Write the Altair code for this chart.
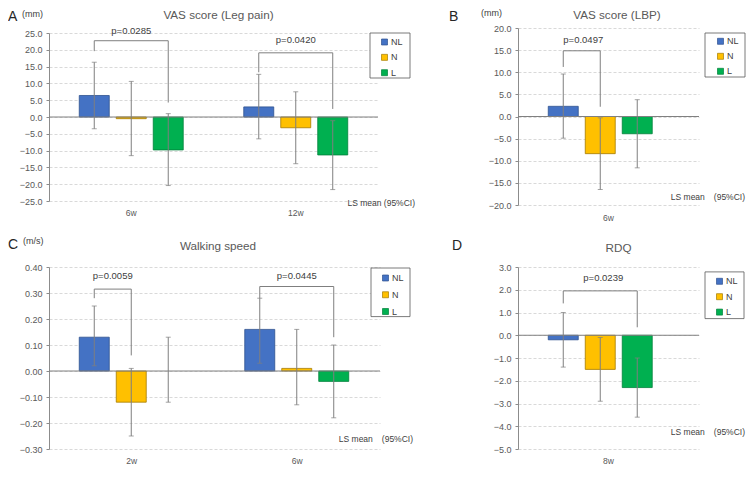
import altair as alt
import pandas as pd

FONT = "Liberation Sans"
GROUPS = ["NL", "N", "L"]
FILLS = ["#4472C4", "#FFC000", "#00B050"]
STROKES = ["#2F528F", "#A47A00", "#00803A"]
GRAY = "#7F7F7F"
TXT = "#595959"

# ---------------- Panel A : VAS score (Leg pain)
a_times = ["6w", "12w"]
a_mean = [6.4, -0.5, -9.8, 3.0, -3.2, -11.3]
a_lo = [-3.5, -11.5, -20.4, -6.5, -13.9, -21.6]
a_hi = [16.3, 10.6, 1.0, 12.7, 7.5, -1.1]
a_ticks = [25, 20, 15, 10, 5, 0, -5, -10, -15, -20, -25]
a_br_time = ["6w", "12w"]
a_br_from = ["NL", "NL"]
a_br_to = ["L", "L"]
a_br_top = [22.7, 19.1]
a_br_left = [19.6, 13.3]
a_br_right = [4.3, 2.4]
a_p_text = ["p=0.0285", "p=0.0420"]
a_p_y = [25.6, 23.0]

# ---------------- Panel B : VAS score (LBP)
b_times = ["6w"]
b_mean = [2.3, -8.4, -3.9]
b_lo = [-4.9, -16.5, -11.6]
b_hi = [9.6, -0.3, 3.8]
b_ticks = [20, 15, 10, 5, 0, -5, -10, -15, -20]
b_br_time = ["6w"]
b_br_from = ["NL"]
b_br_to = ["N"]
b_br_top = [14.85]
b_br_left = [11.2]
b_br_right = [2.2]
b_p_text = ["p=0.0497"]
b_p_y = [17.3]

# ---------------- Panel C : Walking speed
c_times = ["2w", "6w"]
c_mean = [0.13, -0.12, 0.00, 0.16, 0.01, -0.04]
c_lo = [0.02, -0.25, -0.12, 0.03, -0.13, -0.18]
c_hi = [0.25, 0.01, 0.13, 0.28, 0.16, 0.10]
c_ticks = [0.4, 0.3, 0.2, 0.1, 0.0, -0.1, -0.2, -0.3]
c_br_time = ["2w", "6w"]
c_br_from = ["NL", "NL"]
c_br_to = ["N", "L"]
c_br_top = [0.315, 0.325]
c_br_left = [0.28, 0.28]
c_br_right = [0.06, 0.13]
c_p_text = ["p=0.0059", "p=0.0445"]
c_p_y = [0.366, 0.366]

# ---------------- Panel D : RDQ
d_times = ["8w"]
d_mean = [-0.2, -1.5, -2.3]
d_lo = [-1.4, -2.9, -3.6]
d_hi = [1.0, -0.1, -1.0]
d_ticks = [3, 2, 1, 0, -1, -2, -3, -4, -5]
d_br_time = ["8w"]
d_br_from = ["NL"]
d_br_to = ["L"]
d_br_top = [1.95]
d_br_left = [1.4]
d_br_right = [0.35]
d_p_text = ["p=0.0239"]
d_p_y = [2.5]


def text_layer(text, x, y, size, color, align="left"):
    return alt.Chart(pd.DataFrame({"t": [text]})).mark_text(
        align=align, baseline="alphabetic", fontSize=size, color=color, font=FONT
    ).encode(x=alt.value(x), y=alt.value(y), text="t:N")


def panel(c):
    times = c["times"]
    n = len(times)
    df = pd.DataFrame({
        "time": [t for t in times for _ in GROUPS],
        "group": GROUPS * n,
        "mean": c["mean"], "lo": c["lo"], "hi": c["hi"],
    })
    xs = alt.Scale(domain=times, paddingInner=0, paddingOuter=0)
    xo = alt.Scale(domain=GROUPS, paddingInner=c["pi"], paddingOuter=c["po"])
    ys = alt.Scale(domain=c["domain"], range=c["yrange"], nice=False, zero=False)
    xaxis = alt.Axis(domain=False, ticks=False, tickSize=0, labelAngle=0,
                     labelFontSize=8.5, labelColor=TXT, labelPadding=c["xlp"])
    yaxis = alt.Axis(values=c["ticks"], format=c["fmt"], grid=True, gridDash=[3, 2],
                     gridColor="#D9D9D9", domainColor="#8C8C8C", tickColor="#8C8C8C",
                     tickSize=3, labelFontSize=9, labelColor=TXT, labelPadding=4)
    X = alt.X("time:N", scale=xs, axis=xaxis, title=None)

    def Y(f):
        return alt.Y(f, scale=ys, axis=yaxis, title=None)

    def XO(f):
        return alt.XOffset(f, scale=xo)

    base = alt.Chart(df)
    lx, ly, rp = c["legend"]
    bars = base.mark_bar(strokeWidth=0.8).encode(
        x=X, xOffset=XO("group:N"), y=Y("mean:Q"), y2=alt.datum(0),
        color=alt.Color("group:N", scale=alt.Scale(domain=GROUPS, range=FILLS),
                        legend=alt.Legend(orient="none", legendX=lx, legendY=ly, title=None,
                                          padding=0, symbolType="square", symbolSize=36,
                                          symbolStrokeColor="#404040", symbolStrokeWidth=0.7,
                                          labelFontSize=9, labelColor="#404040",
                                          labelOffset=2, rowPadding=rp)),
        stroke=alt.Stroke("group:N", scale=alt.Scale(domain=GROUPS, range=STROKES), legend=None),
    ).transform_filter("datum.mean != 0")
    zero = alt.Chart(pd.DataFrame({"z": [0]})).mark_rule(color="#808080", strokeWidth=1).encode(
        y=Y("z:Q"))
    err = base.mark_rule(color=GRAY, strokeWidth=1).encode(
        x=X, xOffset=XO("group:N"), y=Y("lo:Q"), y2="hi:Q")
    cap_lo = base.mark_tick(color=GRAY, size=5, thickness=1).encode(
        x=X, xOffset=XO("group:N"), y=Y("lo:Q"))
    cap_hi = base.mark_tick(color=GRAY, size=5, thickness=1).encode(
        x=X, xOffset=XO("group:N"), y=Y("hi:Q"))

    bt, bf, bto, btop, bl, br, ptxt, py = c["brackets"]
    rows = []
    for i in range(len(bt)):
        pts = [(bf[i], bl[i]), (bf[i], btop[i]), (bto[i], btop[i]), (bto[i], br[i])]
        for k, (g, v) in enumerate(pts):
            rows.append({"bid": i, "ord": k, "time": bt[i], "grp": g, "v": v})
    brk = alt.Chart(pd.DataFrame(rows)).mark_line(color=GRAY, strokeWidth=1).encode(
        x=X, xOffset=XO("grp:N"), y=Y("v:Q"), detail="bid:N", order="ord:Q")

    plabels = []
    for i in range(len(bt)):
        shift = (GROUPS.index(bto[i]) - GROUPS.index(bf[i])) * c["pitch"] / 2
        pdf = pd.DataFrame({"time": [bt[i]], "grp": [bf[i]], "py": [py[i]], "t": [ptxt[i]]})
        plabels.append(alt.Chart(pdf).mark_text(fontSize=9.5, color="#404040", dx=shift,
                                                baseline="middle").encode(
            x=X, xOffset=XO("grp:N"), y=Y("py:Q"), text="t:N"))

    bx0, by0, bx1, by1 = c["box"]
    box = alt.Chart(pd.DataFrame({"k": [0]})).mark_rect(
        fill="white", stroke="#595959", strokeWidth=0.8).encode(
        x=alt.value(bx0), x2=alt.value(bx1), y=alt.value(by0), y2=alt.value(by1))

    texts = [
        text_layer(c["title"][0], c["title"][1], c["title"][2], 11.7, TXT, "center"),
        text_layer(c["letter"][0], c["letter"][1], c["letter"][2], 14, "#262626"),
        text_layer(c["note"][0], c["note"][1], c["note"][2], 8.5, "#404040", "right"),
    ]
    if c.get("unit"):
        texts.append(text_layer(c["unit"][0], c["unit"][1], c["unit"][2], 9, "#404040"))
    if c.get("spacer"):
        sx, sy0, sy1 = c["spacer"]
        texts.append(alt.Chart(pd.DataFrame({"k": [0]})).mark_rule(strokeOpacity=0).encode(
            x=alt.value(sx), y=alt.value(sy0), y2=alt.value(sy1)))

    return alt.layer(bars, zero, err, cap_lo, cap_hi, brk, *plabels, box, *texts).properties(
        width=c["width"], height=c["height"])


A = panel(dict(
    times=a_times, mean=a_mean, lo=a_lo, hi=a_hi, ticks=a_ticks, fmt=".1f",
    domain=[-25, 25], yrange=[173, 5], width=329, height=177, pi=0.189, po=0.818,
    xlp=3.3, pitch=37,
    brackets=(a_br_time, a_br_from, a_br_to, a_br_top, a_br_left, a_br_right, a_p_text, a_p_y),
    legend=(331, 9.5, 5.35), box=(321, 5, 361, 50),
    title=("VAS score (Leg pain)", 169.5, -9.4), letter=("A", -41, -7.2),
    unit=("(mm)", -27, -11.5), note=("LS mean (95%CI)", 366, 178),
    spacer=(-41, -19.8, -19.5),
))
B = panel(dict(
    times=b_times, mean=b_mean, lo=b_lo, hi=b_hi, ticks=b_ticks, fmt=".1f",
    domain=[-20, 20], yrange=[177, 0], width=181, height=177, pi=0.2, po=0.8625,
    xlp=8.3, pitch=40,
    brackets=(b_br_time, b_br_from, b_br_to, b_br_top, b_br_left, b_br_right, b_p_text, b_p_y),
    legend=(198, 8.8, 5.0), box=(187, 5, 227, 49),
    title=("VAS score (LBP)", 99, -9.4), letter=("B", -69, -7.2),
    unit=("(mm)", -37, -11.8), note=("LS mean\u3000(95%CI)", 227, 171.5),
    spacer=(-69, -19.8, -19.5),
))
C = panel(dict(
    times=c_times, mean=c_mean, lo=c_lo, hi=c_hi, ticks=c_ticks, fmt=".2f",
    domain=[-0.3, 0.4], yrange=[182, 0], width=331, height=182, pi=0.189, po=0.831,
    xlp=7.8, pitch=37,
    brackets=(c_br_time, c_br_from, c_br_to, c_br_top, c_br_left, c_br_right, c_p_text, c_p_y),
    legend=(332, 6.5, 6.75), box=(322, 1, 361, 49.6),
    title=("Walking speed", 169, -17.5), letter=("C", -41, -18.5),
    unit=("(m/s)", -26, -22.9), note=("LS mean\u3000(95%CI)", 364, 175.1),
))
D = panel(dict(
    times=d_times, mean=d_mean, lo=d_lo, hi=d_hi, ticks=d_ticks, fmt=".1f",
    domain=[-5, 3], yrange=[182, 0], width=181, height=182, pi=0.2, po=0.8625,
    xlp=7.1, pitch=40,
    brackets=(d_br_time, d_br_from, d_br_to, d_br_top, d_br_left, d_br_right, d_p_text, d_p_y),
    legend=(197, 9.8, 5.4), box=(187, 4.9, 226, 51.6),
    title=("RDQ", 100.5, -14.9), letter=("D", -66, -16.8),
    note=("LS mean\u3000(95%CI)", 227, 168.3),
))

chart = alt.concat(
    A, B, C, D, columns=2, spacing={"row": 62, "column": 138}, bounds="flush", align="each"
).resolve_scale(color="independent", stroke="independent").resolve_legend(
    color="independent"
).properties(padding=0).configure(font=FONT).configure_view(stroke=None)

chart.save("out.html", embed_options={"renderer": "svg", "actions": False})
